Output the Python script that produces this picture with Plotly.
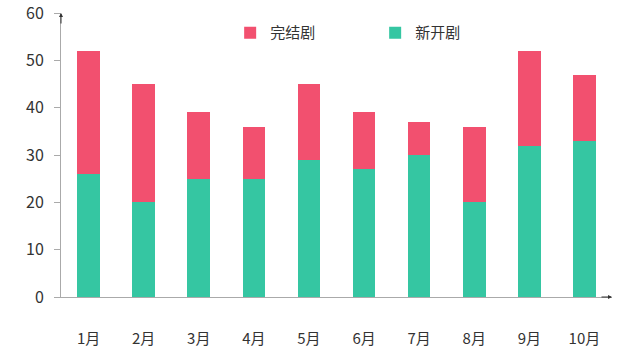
import plotly.graph_objects as go

months = ["1月", "2月", "3月", "4月", "5月", "6月", "7月", "8月", "9月", "10月"]
new_shows = [26, 20, 25, 25, 29, 27, 30, 20, 32, 33]
ended_shows = [26, 25, 14, 11, 16, 12, 7, 16, 20, 14]
y_ticks = [0, 10, 20, 30, 40, 50, 60]

GREEN = "#35C6A2"
RED = "#F2506F"
FONT = "Noto Sans CJK SC"

fig = go.Figure()
fig.add_trace(go.Bar(x=months, y=new_shows, name="新开剧", marker=dict(color=GREEN, line=dict(width=0)), width=0.41))
fig.add_trace(go.Bar(x=months, y=ended_shows, name="完结剧", marker=dict(color=RED, line=dict(width=0)), width=0.41))

fig.update_layout(
    barmode="stack",
    width=644, height=361,
    margin=dict(l=61, r=32, t=13, b=64),
    plot_bgcolor="white", paper_bgcolor="white",
    font=dict(family=FONT, size=14, color="#333333"),
    showlegend=True,
    legend=dict(
        orientation="h", traceorder="reversed",
        x=0.307, y=0.93, xanchor="left", yanchor="middle",
        entrywidth=100, entrywidthmode="pixels",
        itemwidth=30,
        font=dict(size=15, color="#333333"),
        bgcolor="rgba(0,0,0,0)",
    ),
    xaxis=dict(
        showline=True, linecolor="#aaaaaa", linewidth=1,
        ticks="", showgrid=False, ticklabelstandoff=28,
        range=[-0.5, 9.5], automargin=False,
        tickfont=dict(size=15, color="#333333"),
    ),
    yaxis=dict(
        range=[0, 60], tickvals=y_ticks,
        showline=True, linecolor="#aaaaaa", linewidth=1,
        ticks="outside", ticklen=6, tickcolor="#aaaaaa",
        showgrid=False, zeroline=False, ticklabelstandoff=7,
        automargin=False, ticklabeloverflow="allow",
        tickfont=dict(size=16, color="#333333"),
    ),
)

fig.add_annotation(x=0, y=1, xref="paper", yref="paper", ax=0, ay=12, axref="pixel", ayref="pixel",
                   showarrow=True, arrowhead=2, arrowsize=0.8, arrowwidth=1, arrowcolor="#333333", text="")
fig.add_annotation(x=1, y=0, xref="paper", yref="paper", ax=-12, ay=0, axref="pixel", ayref="pixel",
                   showarrow=True, arrowhead=2, arrowsize=0.8, arrowwidth=1, arrowcolor="#333333", text="")

fig.write_html("out.html", config={"displayModeBar": False},
               post_script="document.body.style.margin='0';")
